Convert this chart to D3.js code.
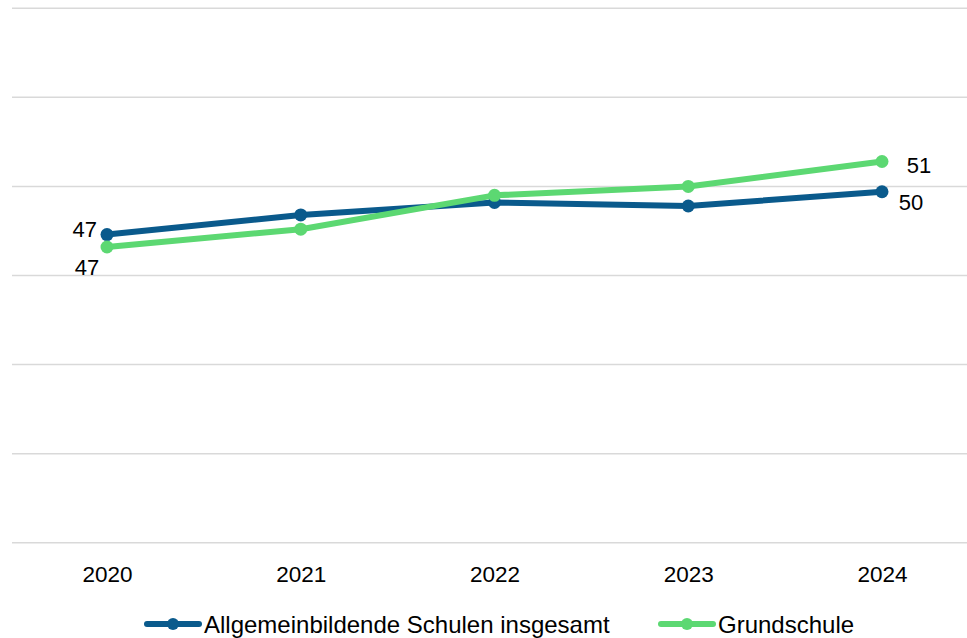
<!DOCTYPE html>
<html>
<head>
<meta charset="utf-8">
<script src="https://cdn.jsdelivr.net/npm/d3@7"></script>
<style>
  html, body { margin: 0; padding: 0; background: #fff; }
  svg { display: block; font-family: Arial, "Liberation Sans", sans-serif; }
</style>
</head>
<body>
<svg id="chart" width="967" height="638"></svg>
<script>
const years = ["2020", "2021", "2022", "2023", "2024"];
const seriesNames = ["Allgemeinbildende Schulen insgesamt", "Grundschule"];
const allgemeinbildend = [47.3, 48.4, 49.1, 48.9, 49.7];
const grundschule = [46.6, 47.6, 49.5, 50.0, 51.4];
const yTicks = [30, 35, 40, 45, 50, 55, 60];
const colors = ["#0A5A8C", "#5CD872"];

const svg = d3.select("#chart");
const plot = { left: 12, right: 967, top: 8.3, bottom: 542.7 };

const x = d3.scalePoint().domain(years).range([107, 882]);
const y = d3.scaleLinear().domain([30, 60]).range([plot.bottom, plot.top]);

// gridlines
svg.append("g").selectAll("line").data(yTicks).join("line")
  .attr("x1", plot.left).attr("x2", plot.right)
  .attr("y1", d => y(d)).attr("y2", d => y(d))
  .attr("stroke", "#d9d9d9").attr("stroke-width", 1.5);

// x axis labels
const xAxis = d3.axisBottom(x).tickSize(0).tickPadding(0);
const gx = svg.append("g").attr("transform", `translate(0,${plot.bottom})`).call(xAxis);
gx.select(".domain").remove();
gx.selectAll("text").attr("font-size", 22.5).attr("fill", "#000")
  .attr("font-family", "Arial, 'Liberation Sans', sans-serif")
  .attr("dy", null).attr("y", 39);

const series = [
  { name: seriesNames[0], values: allgemeinbildend, color: colors[0] },
  { name: seriesNames[1], values: grundschule, color: colors[1] }
];

const line = d3.line().x((d, i) => x(years[i])).y(d => y(d));

series.forEach(s => {
  svg.append("path").datum(s.values)
    .attr("d", line).attr("fill", "none")
    .attr("stroke", s.color).attr("stroke-width", 6)
    .attr("stroke-linejoin", "round");
  svg.append("g").selectAll("circle").data(s.values).join("circle")
    .attr("cx", (d, i) => x(years[i])).attr("cy", d => y(d))
    .attr("r", 6.5).attr("fill", s.color);
});

// data labels (first and last)
const fmt = d3.format(".0f");
const labels = [
  { v: allgemeinbildend[0], i: 0, dx: -10, dy: 2, anchor: "end" },
  { v: grundschule[0], i: 0, dx: -20, dy: 28, anchor: "middle" },
  { v: allgemeinbildend[4], i: 4, dx: 29, dy: 18, anchor: "middle" },
  { v: grundschule[4], i: 4, dx: 37, dy: 12, anchor: "middle" }
];
svg.append("g").selectAll("text").data(labels).join("text")
  .attr("x", d => x(years[d.i]) + d.dx)
  .attr("y", d => y(d.v) + d.dy)
  .attr("text-anchor", d => d.anchor)
  .attr("font-size", 22)
  .attr("fill", "#000")
  .text(d => fmt(d.v));

// legend
const legend = svg.append("g");
const legendItems = [
  { name: seriesNames[0], color: colors[0], x0: 147 },
  { name: seriesNames[1], color: colors[1], x0: 661 }
];
legendItems.forEach(it => {
  const ly = 624;
  legend.append("line").attr("x1", it.x0).attr("x2", it.x0 + 52)
    .attr("y1", ly).attr("y2", ly).attr("stroke", it.color)
    .attr("stroke-width", 6).attr("stroke-linecap", "round");
  legend.append("circle").attr("cx", it.x0 + 26).attr("cy", ly).attr("r", 6).attr("fill", it.color);
  legend.append("text").attr("x", it.x0 + 57).attr("y", ly + 8.5)
    .attr("font-size", 24).attr("fill", "#000").text(it.name);
});
</script>
</body>
</html>
